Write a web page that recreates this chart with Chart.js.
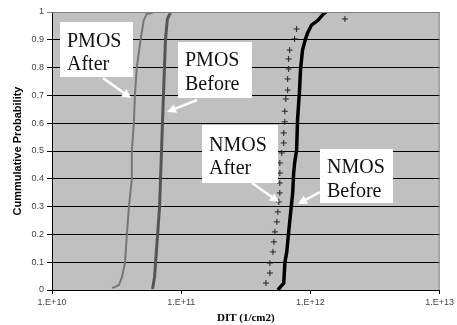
<!DOCTYPE html>
<html>
<head>
<meta charset="utf-8">
<script src="https://cdn.jsdelivr.net/npm/chart.js@4"></script>
<style>
  html, body { margin: 0; padding: 0; background: #fff; }
  #wrap { width: 457px; height: 325px; }
</style>
</head>
<body>
<div id="wrap"><canvas id="ditChart" width="457" height="325"></canvas></div>
<script>
// tick values / labels
const xTickValues = [1e10, 1e11, 1e12, 1e13];
const xTickLabels = ["1.E+10", "1.E+11", "1.E+12", "1.E+13"];
const yTickValues = [0, 0.1, 0.2, 0.3, 0.4, 0.5, 0.6, 0.7, 0.8, 0.9, 1];
const yTickLabels = ["0", "0.1", "0.2", "0.3", "0.4", "0.5", "0.6", "0.7", "0.8", "0.9", "1"];

// PMOS after stress
const pmosAfterDit  = [2.92e10, 3.3e10, 3.48e10, 3.67e10, 3.8e10, 3.94e10, 4.15e10, 4.15e10, 4.3e10, 4.38e10, 4.53e10, 4.86e10, 5.13e10, 5.4e10, 6.0e10];
const pmosAfterProb = [0.007, 0.018, 0.047, 0.097, 0.2, 0.3, 0.4, 0.5, 0.6, 0.7, 0.8, 0.903, 0.97, 0.993, 0.996];

// PMOS before stress
const pmosBeforeDit  = [6.0e10, 6.22e10, 6.34e10, 6.57e10, 6.8e10, 6.92e10, 7.04e10, 7.16e10, 7.29e10, 7.42e10, 7.55e10, 7.82e10, 8.24e10];
const pmosBeforeProb = [0.004, 0.047, 0.1, 0.2, 0.3, 0.4, 0.5, 0.6, 0.7, 0.8, 0.9, 0.975, 0.996];

// NMOS after stress (sparse + markers)
const nmosAfterDit  = [4.53e11, 4.86e11, 4.86e11, 5.13e11, 5.22e11, 5.31e11, 5.5e11, 5.6e11, 5.7e11, 5.8e11, 5.8e11, 5.8e11, 5.8e11, 6.0e11, 6.22e11, 6.22e11, 6.34e11, 6.34e11, 6.45e11, 6.67e11, 6.67e11, 6.79e11, 6.79e11, 6.91e11, 7.55e11, 7.82e11, 1.85e12];
const nmosAfterProb = [0.025, 0.061, 0.097, 0.137, 0.173, 0.209, 0.245, 0.281, 0.317, 0.349, 0.385, 0.421, 0.457, 0.493, 0.529, 0.565, 0.605, 0.643, 0.687, 0.719, 0.759, 0.795, 0.831, 0.863, 0.903, 0.939, 0.975];

// NMOS before stress
const nmosBeforeDit  = [5.6e11, 6.22e11, 6.34e11, 6.56e11, 6.79e11, 7.04e11, 7.29e11, 7.42e11, 7.55e11, 7.82e11, 7.95e11, 8.24e11, 8.39e11, 8.69e11, 9.16e11, 9.49e11, 1.02e12, 1.15e12, 1.26e12, 1.32e12];
const nmosBeforeProb = [0.0, 0.025, 0.097, 0.137, 0.209, 0.281, 0.349, 0.421, 0.457, 0.504, 0.612, 0.719, 0.795, 0.863, 0.903, 0.924, 0.953, 0.971, 0.993, 1.0];

const pts = (xs, ys) => xs.map((x, i) => ({ x: x, y: ys[i] }));

// callout boxes (canvas pixels)
const callouts = [
  { box: [60, 22, 73, 55],  text: ["PMOS", "After"],  tx: 67,  ty: [47, 70],   arrow: [103, 78, 131, 98] },
  { box: [178, 42, 74, 56], text: ["PMOS", "Before"], tx: 185, ty: [66, 90],   arrow: [197, 100, 167, 112] },
  { box: [202, 125, 76, 58], text: ["NMOS", "After"], tx: 209, ty: [151, 174], arrow: [252, 183, 279, 202] },
  { box: [320, 149, 73, 54], text: ["NMOS", "Before"], tx: 327, ty: [173, 197], arrow: [320, 192, 298, 204] }
];

const plotBg = {
  id: "plotBg",
  beforeDraw(chart) {
    const { ctx, chartArea: a } = chart;
    ctx.save();
    ctx.fillStyle = "#c0c0c0";
    ctx.fillRect(a.left, a.top, a.right - a.left, a.bottom - a.top);
    ctx.restore();
  },
  afterDraw(chart) {
    const { ctx, chartArea: a } = chart;
    ctx.save();
    // grey frame top / right
    ctx.strokeStyle = "#808080";
    ctx.lineWidth = 1;
    ctx.beginPath();
    ctx.moveTo(a.left, a.top + 0.5);
    ctx.lineTo(a.right - 0.5, a.top + 0.5);
    ctx.lineTo(a.right - 0.5, a.bottom);
    ctx.stroke();

    callouts.forEach(c => {
      ctx.fillStyle = "#fff";
      ctx.fillRect(c.box[0], c.box[1], c.box[2], c.box[3]);
      ctx.fillStyle = "#111";
      ctx.font = "20px 'Liberation Serif', 'Times New Roman', serif";
      ctx.textBaseline = "alphabetic";
      ctx.textAlign = "left";
      c.text.forEach((t, i) => ctx.fillText(t, c.tx, c.ty[i]));

      const [x1, y1, x2, y2] = c.arrow;
      const ang = Math.atan2(y2 - y1, x2 - x1);
      const hl = 9, hw = 4.5;
      const bx = x2 - hl * Math.cos(ang), by = y2 - hl * Math.sin(ang);
      ctx.strokeStyle = "#fff";
      ctx.lineWidth = 2.5;
      ctx.beginPath();
      ctx.moveTo(x1, y1);
      ctx.lineTo(bx, by);
      ctx.stroke();
      ctx.fillStyle = "#fff";
      ctx.beginPath();
      ctx.moveTo(x2, y2);
      ctx.lineTo(bx + hw * Math.sin(ang), by - hw * Math.cos(ang));
      ctx.lineTo(bx - hw * Math.sin(ang), by + hw * Math.cos(ang));
      ctx.closePath();
      ctx.fill();
    });
    ctx.restore();
  }
};

const tickFont = { family: "'Liberation Sans', Arial, sans-serif", size: 9 };

new Chart(document.getElementById("ditChart"), {
  type: "scatter",
  data: {
    datasets: [
      { label: "PMOS After", data: pts(pmosAfterDit, pmosAfterProb), showLine: true,
        borderColor: "#767676", borderWidth: 2, pointRadius: 0 },
      { label: "PMOS Before", data: pts(pmosBeforeDit, pmosBeforeProb), showLine: true,
        borderColor: "#555555", borderWidth: 3, pointRadius: 0 },
      { label: "NMOS After", data: pts(nmosAfterDit, nmosAfterProb), showLine: false,
        pointStyle: "cross", pointRadius: 3, borderColor: "#222", borderWidth: 1 },
      { label: "NMOS Before", data: pts(nmosBeforeDit, nmosBeforeProb), showLine: true,
        borderColor: "#000", borderWidth: 3.5, pointRadius: 0 }
    ]
  },
  options: {
    responsive: false,
    animation: false,
    layout: { padding: { top: 12, right: 12, left: 0, bottom: 0 } },
    plugins: { legend: { display: false }, tooltip: { enabled: false } },
    scales: {
      x: {
        type: "logarithmic",
        min: xTickValues[0],
        max: xTickValues[xTickValues.length - 1],
        afterBuildTicks: s => { s.ticks = xTickValues.map(v => ({ value: v })); },
        afterFit: s => { s.height = 35; },
        ticks: {
          autoSkip: false, maxRotation: 0, padding: 3, color: "#444", font: tickFont,
          callback: (v) => xTickLabels[xTickValues.indexOf(v)]
        },
        grid: { drawOnChartArea: false, tickLength: 4, color: "#000" },
        border: { color: "#000" },
        title: {
          display: true, text: "DIT (1/cm2)", color: "#000",
          font: { family: "'Liberation Serif', 'Times New Roman', serif", size: 11, weight: "bold" },
          padding: { top: 0, bottom: 0 }
        }
      },
      y: {
        min: 0, max: 1,
        afterBuildTicks: s => { s.ticks = yTickValues.map(v => ({ value: v })); },
        afterFit: s => { s.width = 52; },
        ticks: {
          padding: 3, color: "#444", font: tickFont,
          callback: (v) => yTickLabels[yTickValues.indexOf(v)]
        },
        grid: {
          tickLength: 5,
          color: c => (c.tick && c.tick.value === 1) ? "#808080" : "#000",
          lineWidth: 1
        },
        border: { color: "#000" },
        title: {
          display: true, text: "Cummulative Probability", color: "#000",
          font: { family: "'Liberation Sans', Arial, sans-serif", size: 11, weight: "bold" },
          padding: { top: 11, bottom: 0 }
        }
      }
    }
  },
  plugins: [plotBg]
});
</script>
</body>
</html>
